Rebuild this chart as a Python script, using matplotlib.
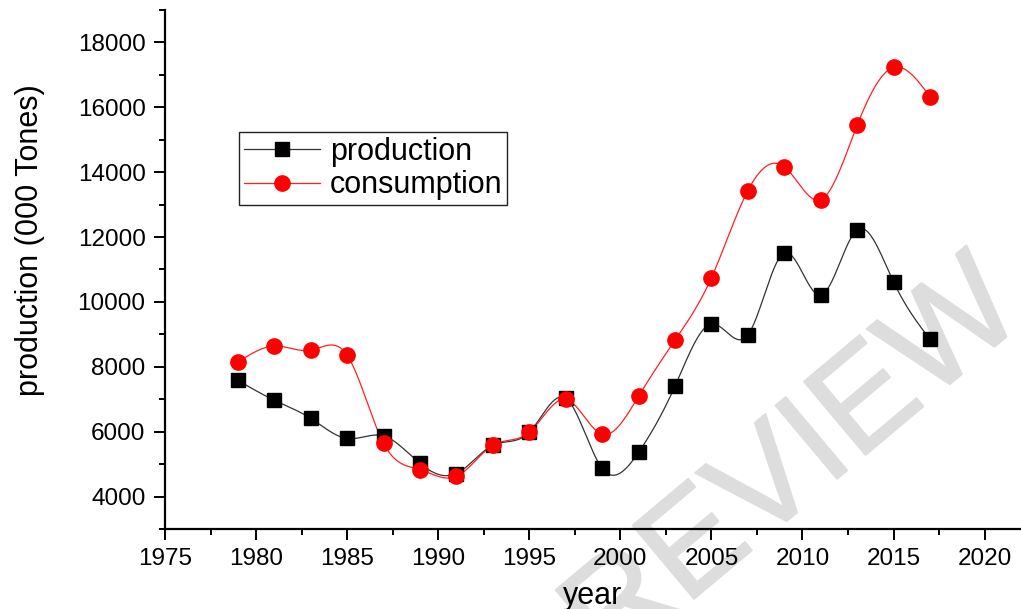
import numpy as np
import matplotlib
matplotlib.use('Agg')
import matplotlib.pyplot as plt
import matplotlib.patheffects as pe

# Data
years = [1979, 1981, 1983, 1985, 1987, 1989, 1991, 1993, 1995, 1997,
         1999, 2001, 2003, 2005, 2007, 2009, 2011, 2013, 2015, 2017]
production = [7580, 6970, 6410, 5790, 5870, 5020, 4710, 5580, 5980, 7030,
              4870, 5360, 7400, 9320, 8980, 11510, 10210, 12220, 10620, 8850]
consumption = [8140, 8640, 8510, 8360, 5640, 4830, 4620, 5580, 5980, 7000,
               5920, 7090, 8820, 10740, 13430, 14170, 13150, 15440, 17230, 16330]


def natural_spline(x, y, n=600):
    # smooth connecting curve like Origin's spline line
    x = np.asarray(x, float)
    y = np.asarray(y, float)
    k = len(x)
    h = np.diff(x)
    A = np.zeros((k, k))
    b = np.zeros(k)
    A[0, 0] = 1
    A[-1, -1] = 1
    for i in range(1, k - 1):
        A[i, i - 1] = h[i - 1]
        A[i, i] = 2 * (h[i - 1] + h[i])
        A[i, i + 1] = h[i]
        b[i] = 6 * ((y[i + 1] - y[i]) / h[i] - (y[i] - y[i - 1]) / h[i - 1])
    M = np.linalg.solve(A, b)
    xs = np.linspace(x[0], x[-1], n)
    idx = np.clip(np.searchsorted(x, xs) - 1, 0, k - 2)
    x0, x1 = x[idx], x[idx + 1]
    hh = x1 - x0
    t0 = x1 - xs
    t1 = xs - x0
    ys = (M[idx] * t0 ** 3 + M[idx + 1] * t1 ** 3) / (6 * hh) \
        + (y[idx] / hh - M[idx] * hh / 6) * t0 \
        + (y[idx + 1] / hh - M[idx + 1] * hh / 6) * t1
    return xs, ys


plt.rcParams['font.family'] = ['Liberation Sans', 'DejaVu Sans']

fig = plt.figure(figsize=(10.21, 6.09), dpi=100)
ax = fig.add_axes([0.1616, 0.1314, 0.8384, 0.8522])
ax.patch.set_alpha(0)
ax.set_zorder(1)

# watermark behind the plot
wm = fig.text(0.596, -0.101, 'REVIEW', fontsize=100, color='#dddddd', rotation=40,
              rotation_mode='anchor', ha='left', va='baseline', zorder=-5)
wm.set_path_effects([pe.withStroke(linewidth=1.5, foreground='#dddddd')])

xs, ys = natural_spline(years, production)
ax.plot(xs, ys, color='#333333', lw=0.9)
xs, ys = natural_spline(years, consumption)
ax.plot(xs, ys, color='#ff2020', lw=0.9)

ax.plot(years, production, ls='none', marker='s', ms=10, color='black')
ax.plot(years, consumption, ls='none', marker='o', ms=11, color='red')

# legend proxies
ax.plot([], [], color='#333333', lw=0.9, marker='s', ms=10, mfc='black', mec='black', label='production')
ax.plot([], [], color='#ff2020', lw=0.9, marker='o', ms=11, mfc='red', mec='red', label='consumption')

ax.set_xlim(1975, 2022)
ax.set_ylim(3000, 19000)
ax.set_xticks(np.arange(1975, 2021, 5))
ax.set_xticks(np.arange(1977.5, 2022, 5), minor=True)
ax.set_yticks(np.arange(4000, 18001, 2000))
ax.set_yticks(np.arange(3000, 19001, 2000), minor=True)

for s in ['top', 'right']:
    ax.spines[s].set_visible(False)
for s in ['left', 'bottom']:
    ax.spines[s].set_linewidth(1.6)

ax.tick_params(which='major', direction='out', length=8, width=1.4, labelsize=17.5, pad=6)
ax.tick_params(which='minor', direction='out', length=4.5, width=1.4)

ax.set_xlabel('year', fontsize=22)
ax.set_ylabel('production (000 Tones)', fontsize=22)
ax.yaxis.set_label_coords(-0.140, 0.557)
ax.xaxis.set_label_coords(0.5, -0.100)

leg = ax.legend(loc='upper left', bbox_to_anchor=(0.0864, 0.765), borderaxespad=0,
                fontsize=22, fancybox=False, framealpha=1, edgecolor='#222222',
                handlelength=2.5, handletextpad=0.33, labelspacing=0.12,
                borderpad=0.15)
leg.get_frame().set_linewidth(1.0)

fig.savefig('out.png', dpi=100)
